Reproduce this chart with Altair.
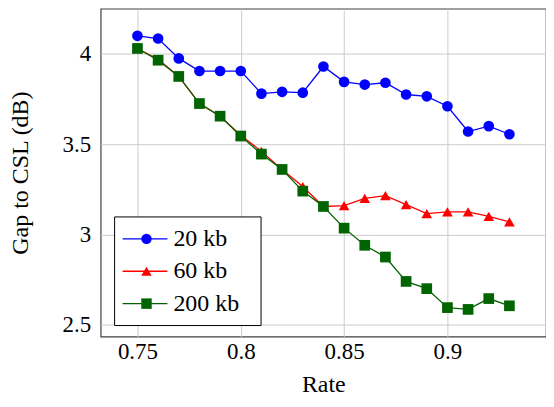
import altair as alt
import pandas as pd

rates = [0.75, 0.76, 0.77, 0.78, 0.79, 0.80, 0.81, 0.82, 0.83, 0.84,
         0.85, 0.86, 0.87, 0.88, 0.89, 0.90, 0.91, 0.92, 0.93]
series = ["20 kb", "60 kb", "200 kb"]
gap_20 = [4.10, 4.085, 3.975, 3.905, 3.905, 3.905, 3.78, 3.79, 3.785, 3.93,
          3.845, 3.83, 3.84, 3.775, 3.765, 3.71, 3.57, 3.60, 3.555]
gap_60 = [4.03, 3.97, 3.875, 3.725, 3.655, 3.55, 3.46, 3.36, 3.265, 3.155,
          3.16, 3.20, 3.215, 3.165, 3.115, 3.125, 3.125, 3.10, 3.07]
gap_200 = [4.03, 3.965, 3.875, 3.725, 3.655, 3.545, 3.445, 3.36, 3.24, 3.155,
           3.035, 2.94, 2.875, 2.74, 2.70, 2.595, 2.585, 2.645, 2.605]
colors = ["#0000ff", "#ff0000", "#006400"]
shapes = ["circle", "triangle-up", "square"]
x_ticks = [0.75, 0.8, 0.85, 0.9]
y_ticks = [2.5, 3, 3.5, 4]

rows = []
for s, vals in zip(series, [gap_20, gap_60, gap_200]):
    for r, v in zip(rates, vals):
        rows.append({"Rate": r, "Gap": v, "Series": s})
df = pd.DataFrame(rows)
leg_df = pd.DataFrame({"Series": series})

FONT = "Liberation Serif"
color_scale = alt.Scale(domain=series, range=colors)
shape_scale = alt.Scale(domain=series, range=shapes)

axis_style = dict(grid=True, gridColor="#cccccc", gridWidth=1, domain=False, ticks=False,
                  labelFont=FONT, labelFontSize=23, labelColor="black",
                  titleFont=FONT, titleFontSize=24, titleFontWeight="normal",
                  titleColor="black")
x_enc = alt.X("Rate:Q",
              scale=alt.Scale(domain=[0.7322, 0.9477], nice=False, zero=False),
              axis=alt.Axis(values=x_ticks, format="~g", title="Rate",
                            labelPadding=4, titlePadding=9, **axis_style))
y_enc = alt.Y("Gap:Q",
              scale=alt.Scale(domain=[2.435, 4.25], nice=False, zero=False),
              axis=alt.Axis(values=y_ticks, format="~g", title="Gap to CSL (dB)",
                            labelPadding=10, titlePadding=30, **axis_style))

lines = alt.Chart(df).mark_line(strokeWidth=1.3).encode(
    x=x_enc, y=y_enc,
    color=alt.Color("Series:N", scale=color_scale, legend=None),
)
points = alt.Chart(df).mark_point(filled=True, size=115, opacity=1).encode(
    x=x_enc, y=y_enc,
    color=alt.Color("Series:N", scale=color_scale, legend=None),
    shape=alt.Shape("Series:N", scale=shape_scale, legend=None),
)

leg_y = alt.Y("Series:N",
              scale=alt.Scale(type="point", domain=series, range=[231, 296], padding=0),
              axis=None)
box = alt.Chart(pd.DataFrame({"k": [0]})).mark_rect(
    fill="white", stroke="black", strokeWidth=1
).encode(x=alt.value(14), x2=alt.value(161), y=alt.value(209), y2=alt.value(318))
leg_line = alt.Chart(leg_df).mark_rule(strokeWidth=1.3).encode(
    x=alt.value(22), x2=alt.value(67), y=leg_y,
    color=alt.Color("Series:N", scale=color_scale, legend=None),
)
leg_pt = alt.Chart(leg_df).mark_point(filled=True, size=110, opacity=1).encode(
    x=alt.value(46), y=leg_y,
    color=alt.Color("Series:N", scale=color_scale, legend=None),
    shape=alt.Shape("Series:N", scale=shape_scale, legend=None),
)
leg_txt = alt.Chart(leg_df).mark_text(
    align="left", baseline="middle", font=FONT, fontSize=24, color="black"
).encode(x=alt.value(73), y=leg_y, text="Series:N")

chart = alt.layer(
    alt.layer(lines, points), box, leg_line, leg_pt, leg_txt
).resolve_scale(y="independent").properties(
    width=447, height=329,
    padding=0,
    view=alt.ViewBackground(stroke="#404040", strokeWidth=1.2),
)

chart.save("out.html", embed_options={"renderer": "svg", "actions": False})
